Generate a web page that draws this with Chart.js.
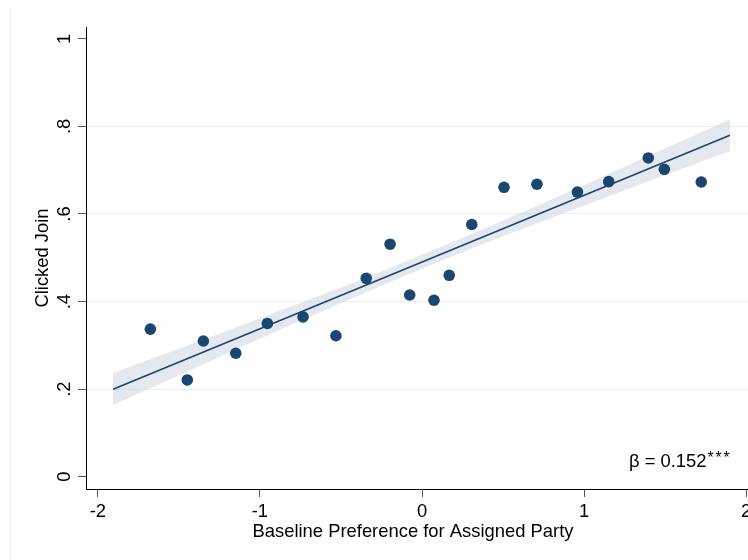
<!DOCTYPE html>
<html>
<head>
<meta charset="utf-8">
<script src="https://cdn.jsdelivr.net/npm/chart.js@4.4.1/dist/chart.umd.min.js"></script>
<style>
  html, body { margin: 0; padding: 0; background: #fff; overflow: hidden; }
  #wrap { position: relative; width: 748px; height: 560px; overflow: hidden; }
  #frame { position: absolute; left: 10px; top: 7px; bottom: 0; border-left: 1px solid #eeeeee; }
  canvas { position: absolute; left: 0; top: 0; }
</style>
</head>
<body>
<div id="wrap">
  <div id="frame"></div>
  <canvas id="grafico" width="772" height="560"></canvas>
</div>
<script>
// binned means
const binX = [-1.676, -1.448, -1.349, -1.149, -0.954, -0.734, -0.531, -0.344, -0.197, -0.076,
              0.074, 0.168, 0.307, 0.506, 0.709, 0.959, 1.152, 1.396, 1.495, 1.723];
const binY = [0.337, 0.221, 0.310, 0.282, 0.350, 0.365, 0.322, 0.453, 0.531, 0.415,
              0.403, 0.460, 0.576, 0.661, 0.668, 0.650, 0.674, 0.728, 0.702, 0.673];

// linear fit and its confidence band
const fitX = [-1.906, 1.900];
const fitY = [0.200, 0.780];
const bandX = [-1.906, -1.5, -1, -0.5, 0, 0.5, 1, 1.5, 1.900];
const bandHi = [0.237, 0.292, 0.362, 0.432, 0.507, 0.585, 0.666, 0.750, 0.816];
const bandLo = [0.164, 0.231, 0.315, 0.396, 0.475, 0.549, 0.619, 0.689, 0.743];

const xTicks = [-2, -1, 0, 1, 2];
const xTickLabels = ['-2', '-1', '0', '1', '2'];
const yTicks = [0, 0.2, 0.4, 0.6, 0.8, 1];
const yTickLabels = ['0', '.2', '.4', '.6', '.8', '1'];

const tituloX = 'Baseline Preference for Assigned Party';
const tituloY = 'Clicked Join';
const nota = 'β = 0.152';
const notaSup = '***';
const notaX = 1.277;
const notaY = 0.023;

const azul = '#1a476f';
const fonte = '"Liberation Sans", Arial, Helvetica, sans-serif';

function pares(xs, ys) {
  return xs.map((x, i) => ({ x: x, y: ys[i] }));
}

const textos = {
  id: 'textos',
  afterDraw(chart) {
    const ctx = chart.ctx;
    const xs = chart.scales.x;
    const ys = chart.scales.y;
    const area = chart.chartArea;
    ctx.save();
    ctx.fillStyle = '#000';
    ctx.font = '18.4px ' + fonte;
    ctx.textBaseline = 'alphabetic';

    ctx.textAlign = 'center';
    xTicks.forEach((v, i) => {
      ctx.fillText(xTickLabels[i], xs.getPixelForValue(v), area.bottom + 28);
    });
    ctx.fillText(tituloX, area.left + 327, area.bottom + 48);

    yTicks.forEach((v, i) => {
      ctx.save();
      ctx.translate(area.left - 16, ys.getPixelForValue(v));
      ctx.rotate(-Math.PI / 2);
      ctx.fillText(yTickLabels[i], 0, 0);
      ctx.restore();
    });

    ctx.save();
    ctx.translate(area.left - 38, (area.top + area.bottom) / 2);
    ctx.rotate(-Math.PI / 2);
    ctx.fillText(tituloY, 0, 0);
    ctx.restore();

    // coefficient note
    ctx.textAlign = 'left';
    const nx = xs.getPixelForValue(notaX);
    const ny = ys.getPixelForValue(notaY);
    ctx.fillText(nota, nx, ny);
    const w = ctx.measureText(nota).width;
    ctx.font = '16px ' + fonte;
    for (let i = 0; i < notaSup.length; i++) {
      ctx.fillText(notaSup[i], nx + w + 1 + i * 8, ny - 4);
    }
    ctx.restore();
  }
};

const ctx = document.getElementById('grafico').getContext('2d');

new Chart(ctx, {
  type: 'scatter',
  data: {
    datasets: [
      {
        type: 'scatter',
        data: pares(binX, binY),
        backgroundColor: azul,
        borderWidth: 0,
        pointRadius: 5.8,
        order: 0
      },
      {
        type: 'line',
        data: pares(fitX, fitY),
        borderColor: azul,
        borderWidth: 1.6,
        pointRadius: 0,
        fill: false,
        order: 1
      },
      {
        type: 'line',
        data: pares(bandX, bandHi),
        borderWidth: 0,
        borderColor: 'rgba(0,0,0,0)',
        backgroundColor: 'rgba(198,207,219,0.45)',
        pointRadius: 0,
        cubicInterpolationMode: 'monotone',
        fill: '+1',
        order: 2
      },
      {
        type: 'line',
        data: pares(bandX, bandLo),
        borderWidth: 0,
        borderColor: 'rgba(0,0,0,0)',
        pointRadius: 0,
        cubicInterpolationMode: 'monotone',
        fill: false,
        order: 3
      }
    ]
  },
  options: {
    responsive: false,
    animation: false,
    layout: { autoPadding: false, padding: { left: 0, top: 27, right: 14, bottom: 0 } },
    plugins: { legend: { display: false }, tooltip: { enabled: false } },
    scales: {
      x: {
        type: 'linear',
        min: -2.073,
        max: 2.073,
        afterBuildTicks: s => { s.ticks = xTicks.map(v => ({ value: v })); },
        afterFit: s => { s.height = 71; },
        ticks: { display: false },
        grid: { drawOnChartArea: false, drawTicks: true, tickLength: 8, tickColor: '#555', lineWidth: 1 },
        border: { display: true, color: '#000', width: 1 }
      },
      y: {
        type: 'linear',
        min: -0.028,
        max: 1.027,
        afterBuildTicks: s => { s.ticks = yTicks.map(v => ({ value: v })); },
        afterFit: s => { s.width = 86; },
        ticks: { display: false },
        grid: {
          color: c => (c.tick && (c.tick.value === 0 || c.tick.value === 1)) ? 'rgba(0,0,0,0)' : '#e8f0f1',
          tickColor: '#555',
          drawTicks: true,
          tickLength: 8,
          lineWidth: 1
        },
        border: { display: true, color: '#000', width: 1 }
      }
    }
  },
  plugins: [textos]
});
</script>
</body>
</html>
